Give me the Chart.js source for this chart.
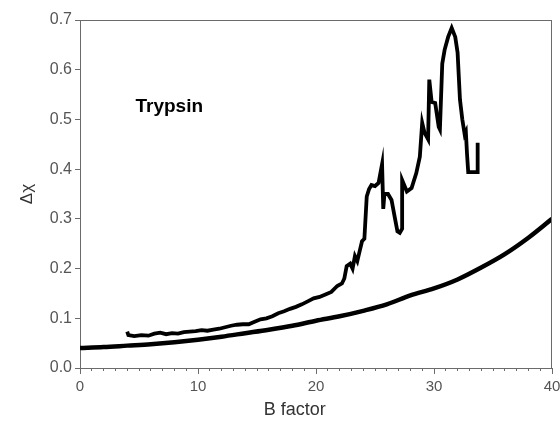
<!DOCTYPE html>
<html>
<head>
<meta charset="utf-8">
<script src="https://cdn.jsdelivr.net/npm/chart.js@4"></script>
<style>
  body { margin: 0; background: #fff; }
  canvas { display: block; }
</style>
</head>
<body>
<canvas id="myChart" width="560" height="422"></canvas>
<script>
// measured curve (B factor vs delta chi)
const trypsinB = [4.0, 4.1, 4.6, 5.2, 5.8, 6.3, 6.8, 7.3, 7.8, 8.3, 8.8, 9.3, 9.8, 10.3, 10.8, 11.3, 11.8, 12.3, 12.8, 13.3,
  13.8, 14.3, 14.8, 15.3, 15.8, 16.3, 16.8, 17.3, 17.8, 18.3, 18.8, 19.3, 19.8, 20.3, 20.8, 21.3, 21.8, 22.2, 22.4, 22.6,
  22.9, 23.1, 23.3, 23.5, 23.7, 23.9, 24.1, 24.3, 24.5, 24.7, 25.0, 25.3, 25.6, 25.7, 25.8, 26.1, 26.4, 26.7, 26.9, 27.1,
  27.3, 27.3, 27.7, 28.1, 28.5, 28.8, 29.0, 29.2, 29.5, 29.6, 29.8, 30.1, 30.4, 30.5, 30.7, 30.9, 31.2, 31.5, 31.8, 32.0,
  32.2, 32.4, 32.6, 32.7, 32.8, 32.9, 33.7, 33.7];
const trypsinChi = [0.073, 0.066, 0.064, 0.066, 0.065, 0.069, 0.071, 0.068, 0.070, 0.069, 0.072, 0.073, 0.074, 0.076, 0.075, 0.077, 0.079, 0.082, 0.085, 0.087,
  0.088, 0.088, 0.093, 0.098, 0.100, 0.104, 0.110, 0.114, 0.119, 0.123, 0.128, 0.134, 0.140, 0.143, 0.148, 0.153, 0.165, 0.170, 0.180, 0.205,
  0.210, 0.200, 0.225, 0.215, 0.235, 0.255, 0.260, 0.345, 0.360, 0.368, 0.366, 0.372, 0.410, 0.320, 0.350, 0.350, 0.338, 0.300, 0.275, 0.272,
  0.280, 0.378, 0.355, 0.362, 0.392, 0.425, 0.493, 0.473, 0.460, 0.580, 0.535, 0.533, 0.485, 0.480, 0.612, 0.640, 0.666, 0.684, 0.666, 0.634,
  0.540, 0.500, 0.470, 0.475, 0.430, 0.394, 0.394, 0.453];

// smooth reference curve
const baseB = [0, 2, 4, 6, 8, 10, 12, 14, 16, 18, 20, 22, 24, 26, 28, 30, 32, 34, 36, 38, 40];
const baseChi = [0.040, 0.042, 0.045, 0.048, 0.052, 0.057, 0.063, 0.070, 0.077, 0.085, 0.095, 0.104, 0.115, 0.128, 0.146, 0.160, 0.178, 0.202, 0.229, 0.262, 0.300];

const xTicksMajor = [0, 10, 20, 30, 40];
const yTicks = [0, 0.1, 0.2, 0.3, 0.4, 0.5, 0.6, 0.7];

const axisColor = '#6b6b6b';
const labelColor = '#555';
const fontFamily = '"Liberation Sans", Arial, sans-serif';

const toPoints = (xs, ys) => xs.map((x, i) => ({ x: x, y: ys[i] }));

// extra frame lines, longer major ticks and the in-plot label
const framePlugin = {
  id: 'frame',
  afterDraw(chart) {
    const c = chart.ctx;
    const a = chart.chartArea;
    const xs = chart.scales.x;
    const ys = chart.scales.y;
    c.save();
    c.strokeStyle = axisColor;
    c.lineWidth = 1;
    c.beginPath();
    c.moveTo(a.left, a.top + 0.5);
    c.lineTo(a.right, a.top + 0.5);
    c.moveTo(a.right - 0.5, a.top);
    c.lineTo(a.right - 0.5, a.bottom);
    xTicksMajor.forEach(v => {
      const px = Math.round(xs.getPixelForValue(v)) + 0.5;
      c.moveTo(px, a.bottom);
      c.lineTo(px, a.bottom + 6);
    });
    c.stroke();

    c.fillStyle = '#000';
    c.font = 'bold 19px ' + fontFamily;
    c.textBaseline = 'middle';
    c.textAlign = 'left';
    c.fillText('Trypsin', xs.getPixelForValue(4.7), ys.getPixelForValue(0.525));

    c.fillStyle = '#333';
    c.font = '18px ' + fontFamily;
    c.textAlign = 'center';
    c.fillText('B factor', xs.getPixelForValue(18.2), 410);
    c.restore();
  }
};

const ctx = document.getElementById('myChart').getContext('2d');

const myChart = new Chart(ctx, {
  type: 'line',
  data: {
    datasets: [{
      data: toPoints(trypsinB, trypsinChi),
      borderColor: '#000',
      borderWidth: 3.8,
      pointRadius: 0,
      tension: 0,
      borderJoinStyle: 'miter'
    }, {
      data: toPoints(baseB, baseChi),
      borderColor: '#000',
      borderWidth: 4.5,
      pointRadius: 0,
      tension: 0.4,
      cubicInterpolationMode: 'monotone'
    }]
  },
  options: {
    responsive: false,
    animation: false,
    layout: { padding: { left: 0, top: 20, right: 8, bottom: 0 } },
    plugins: {
      legend: { display: false },
      tooltip: { enabled: false }
    },
    scales: {
      x: {
        type: 'linear',
        min: 0,
        max: 40,
        afterFit: scale => {
          scale.height = 54;
          scale.paddingLeft = 0;
          scale.paddingRight = 0;
        },
        border: { display: true, color: axisColor, width: 1 },
        grid: { drawOnChartArea: false, drawTicks: true, tickLength: 3, color: axisColor },
        ticks: {
          stepSize: 1,
          autoSkip: false,
          maxRotation: 0,
          padding: 7,
          color: labelColor,
          font: { family: fontFamily, size: 15 },
          callback: v => (v % 10 === 0 ? v : '')
        }
      },
      y: {
        min: 0,
        max: 0.7,
        afterFit: scale => { scale.width = 80; },
        afterBuildTicks: scale => { scale.ticks = yTicks.map(v => ({ value: v })); },
        border: { display: true, color: axisColor, width: 1 },
        grid: { drawOnChartArea: false, drawTicks: true, tickLength: 5, color: axisColor },
        title: {
          display: true,
          text: 'Δχ',
          color: '#333',
          font: { family: fontFamily, size: 17 },
          padding: { top: 17, bottom: 0 }
        },
        ticks: {
          padding: 3,
          color: labelColor,
          font: { family: fontFamily, size: 16 },
          callback: v => v.toFixed(1)
        }
      }
    }
  },
  plugins: [framePlugin]
});
</script>
</body>
</html>
